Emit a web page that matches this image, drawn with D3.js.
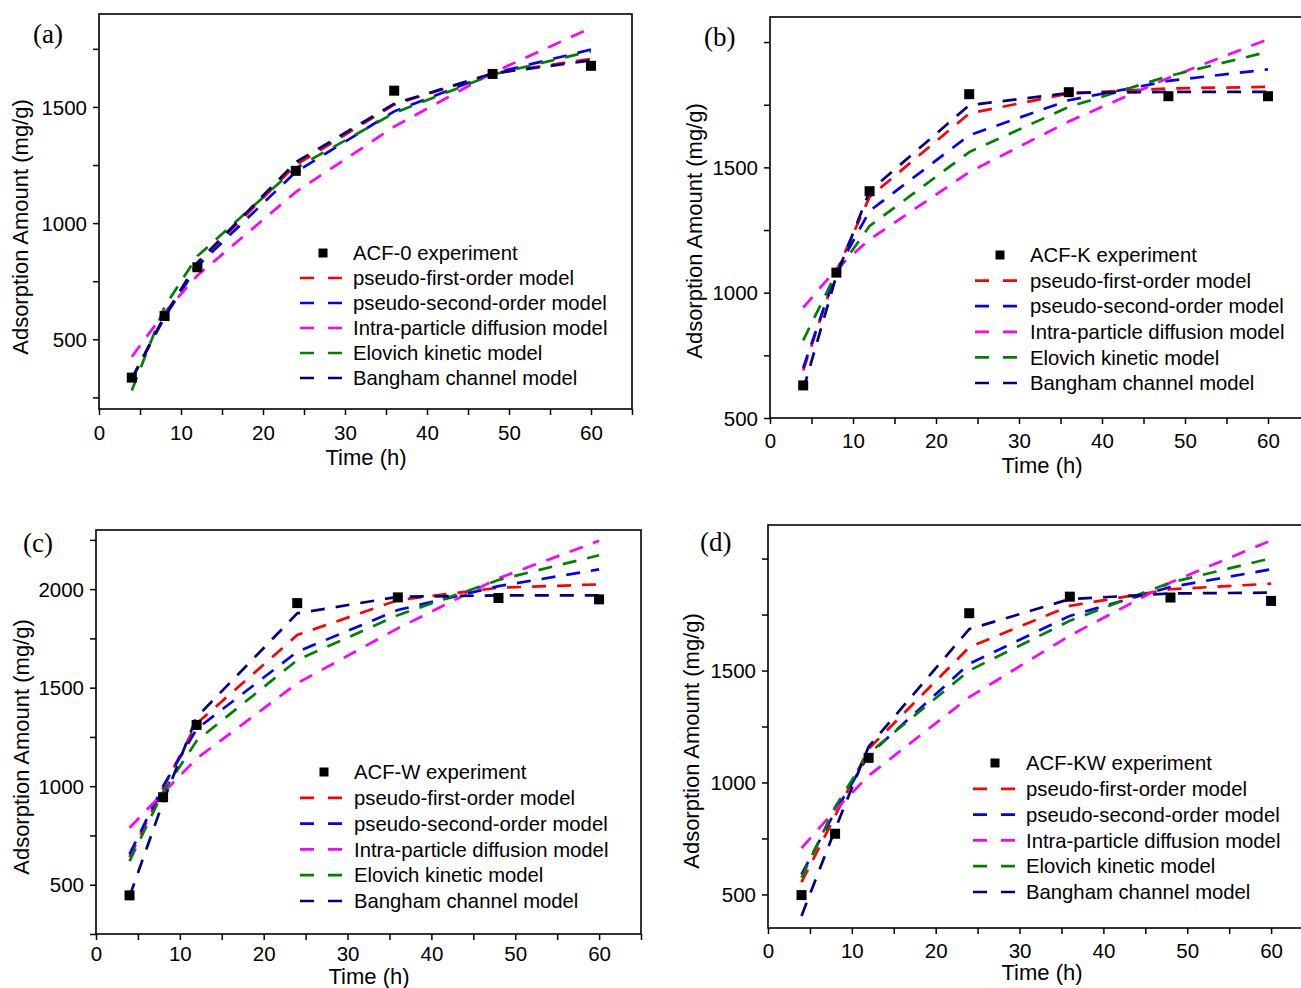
<!DOCTYPE html>
<html><head><meta charset="utf-8">
<script src="https://cdn.jsdelivr.net/npm/d3@7"></script>
<style>
html,body{margin:0;padding:0;background:#fff;}
svg{display:block;font-family:"Liberation Sans",Arial,sans-serif;}
</style></head>
<body>
<svg id="chart" width="1301" height="988"></svg>
<script>
// ---------- DATA ----------
const timeH = [4, 8, 12, 24, 36, 48, 60];
const seriesNames = ["pseudo-first-order model", "pseudo-second-order model",
  "Intra-particle diffusion model", "Elovich kinetic model", "Bangham channel model"];
const expLabels = ["ACF-0 experiment", "ACF-K experiment", "ACF-W experiment", "ACF-KW experiment"];
const panelLetters = ["(a)", "(b)", "(c)", "(d)"];
const xTickLabels = [0, 10, 20, 30, 40, 50, 60];
const yTickLabelsA = [500, 1000, 1500];
const yTickLabelsB = [500, 1000, 1500];
const yTickLabelsC = [500, 1000, 1500, 2000];
const yTickLabelsD = [500, 1000, 1500];

// (a) ACF-0
const expA = [335, 600, 810, 1225, 1570, 1642, 1677];
const pfoA = [330, 600, 825, 1250, 1510, 1644, 1707];
const psoA = [330, 595, 815, 1220, 1481, 1644, 1747];
const ipdA = [425, 615, 775, 1134, 1415, 1647, 1840];
const elvA = [280, 640, 858, 1237, 1474, 1639, 1740];
const bngA = [330, 600, 830, 1262, 1514, 1644, 1700];
// (b) ACF-K
const expB = [630, 1080, 1405, 1792, 1800, 1784, 1784];
const pfoB = [690, 1085, 1382, 1715, 1795, 1815, 1821];
const psoB = [700, 1085, 1326, 1628, 1768, 1845, 1891];
const ipdB = [940, 1095, 1212, 1481, 1683, 1857, 2011];
const elvB = [810, 1080, 1266, 1561, 1741, 1864, 1961];
const bngB = [612, 1068, 1405, 1748, 1797, 1801, 1801];
// (c) ACF-W
const expC = [446, 944, 1311, 1929, 1958, 1955, 1948];
const pfoC = [640, 990, 1318, 1767, 1944, 2007, 2024];
const psoC = [655, 1000, 1290, 1682, 1894, 2015, 2100];
const ipdC = [789, 965, 1140, 1522, 1801, 2055, 2245];
const elvC = [620, 970, 1230, 1640, 1868, 2046, 2172];
const bngC = [440, 920, 1350, 1877, 1961, 1968, 1968];
// (d) ACF-KW
const expD = [497, 771, 1110, 1756, 1830, 1826, 1811];
const pfoD = [555, 850, 1150, 1604, 1789, 1863, 1888];
const psoD = [590, 870, 1122, 1530, 1744, 1873, 1952];
const ipdD = [707, 876, 1030, 1381, 1656, 1893, 2081];
const elvD = [575, 890, 1130, 1500, 1722, 1893, 2001];
const bngD = [404, 790, 1160, 1685, 1819, 1844, 1848];

// ---------- STYLE / LAYOUT ----------
const seriesColors = ["#ff0000", "#0000ff", "#ff00ff", "#008000", "#000080"];
const panels = [
  { exp: expA, models: [pfoA, psoA, ipdA, elvA, bngA], yLabels: yTickLabelsA,
    left: 99, right: 632, top: 14, bottom: 409, yDom: [200, 1900], yMinorFrom: 250, yMinorTo: 1750,
    letter: [33, 43], yTitle: [20, 227], xTitle: [366, 465], xTickDy: 31,
    leg: { mx: 323, l0: 300, l1: 342, tx: 353, y0: 253, dy: 25 } },
  { exp: expB, models: [pfoB, psoB, ipdB, elvB, bngB], yLabels: yTickLabelsB,
    left: 770, right: 1309.5, top: 17, bottom: 418, yDom: [500, 2100], yMinorFrom: 500, yMinorTo: 2000,
    letter: [704, 46], yTitle: [694, 231], xTitle: [1042, 473], xTickDy: 30,
    leg: { mx: 1000, l0: 975, l1: 1019, tx: 1030, y0: 255, dy: 25.6 } },
  { exp: expC, models: [pfoC, psoC, ipdC, elvC, bngC], yLabels: yTickLabelsC,
    left: 96, right: 641, top: 530, bottom: 934, yDom: [250, 2300], yMinorFrom: 250, yMinorTo: 2250,
    letter: [23, 552], yTitle: [21, 747], xTitle: [369, 984], xTickDy: 27,
    leg: { mx: 324, l0: 300, l1: 344, tx: 354, y0: 772, dy: 25.8 } },
  { exp: expD, models: [pfoD, psoD, ipdD, elvD, bngD], yLabels: yTickLabelsD,
    left: 768, right: 1313, top: 525, bottom: 928, yDom: [350, 2150], yMinorFrom: 500, yMinorTo: 2000,
    letter: [700, 551], yTitle: [691, 741], xTitle: [1042, 980], xTickDy: 30,
    leg: { mx: 995, l0: 973, l1: 1015, tx: 1026, y0: 763, dy: 25.8 } }
];

const svg = d3.select("#chart");
const DASH = "14,11";
const LW = 2.7;

panels.forEach((p, pi) => {
  const g = svg.append("g");
  const x = d3.scaleLinear().domain([0, 65]).range([p.left, p.right]);
  const y = d3.scaleLinear().domain(p.yDom).range([p.bottom, p.top]);

  // axes with D3
  const xAxis = d3.axisBottom(x).tickValues(d3.range(0, 66, 5)).tickSize(6)
    .tickFormat(d => xTickLabels.includes(d) ? d : "");
  const gx = g.append("g").attr("transform", `translate(0,${p.bottom})`).call(xAxis);
  gx.select(".domain").remove();
  gx.selectAll("line").attr("stroke", "#000").attr("stroke-width", 1.5);
  gx.selectAll("text").attr("font-size", 20.5).attr("fill", "#000")
    .attr("y", p.xTickDy).attr("dy", 0);

  const yAxis = d3.axisLeft(y).tickValues(d3.range(p.yMinorFrom, p.yMinorTo + 1, 250)).tickSize(6)
    .tickFormat(d => p.yLabels.includes(d) ? d : "");
  const gy = g.append("g").attr("transform", `translate(${p.left},0)`).call(yAxis);
  gy.select(".domain").remove();
  gy.selectAll("line").attr("stroke", "#000").attr("stroke-width", 1.5);
  gy.selectAll("text").attr("font-size", 20.5).attr("fill", "#000").attr("x", -12).attr("dy", "0.35em");

  // frame
  g.append("rect").attr("x", p.left).attr("y", p.top)
    .attr("width", p.right - p.left).attr("height", p.bottom - p.top)
    .attr("fill", "none").attr("stroke", "#000").attr("stroke-width", 1.6);

  // model lines
  const line = d3.line().x((d, i) => x(timeH[i])).y(d => y(d));
  const clipId = "clip" + pi;
  g.append("clipPath").attr("id", clipId).append("rect")
    .attr("x", p.left).attr("y", p.top).attr("width", p.right - p.left).attr("height", p.bottom - p.top);
  const lg = g.append("g").attr("clip-path", `url(#${clipId})`);
  p.models.forEach((vals, si) => {
    lg.append("path").datum(vals).attr("d", line)
      .attr("fill", "none").attr("stroke", seriesColors[si]).attr("stroke-width", LW)
      .attr("stroke-dasharray", DASH);
  });

  // experiment markers
  lg.selectAll("rect.exp").data(p.exp).enter().append("rect").attr("class", "exp")
    .attr("x", (d, i) => x(timeH[i]) - 5).attr("y", d => y(d) - 5)
    .attr("width", 10).attr("height", 10).attr("fill", "#000");

  // axis titles
  g.append("text").attr("transform", `translate(${p.yTitle[0]},${p.yTitle[1]}) rotate(-90)`)
    .attr("text-anchor", "middle").attr("dy", "0.35em").attr("font-size", 22).text("Adsorption Amount (mg/g)");
  g.append("text").attr("x", p.xTitle[0]).attr("y", p.xTitle[1])
    .attr("text-anchor", "middle").attr("font-size", 22).text("Time (h)");

  // panel letter
  g.append("text").attr("x", p.letter[0]).attr("y", p.letter[1])
    .attr("font-family", "'Liberation Serif','Times New Roman',serif").attr("font-size", 27)
    .text(panelLetters[pi]);

  // legend
  const L = p.leg;
  g.append("rect").attr("x", L.mx - 4.5).attr("y", L.y0 - 4.5).attr("width", 9).attr("height", 9).attr("fill", "#000");
  g.append("text").attr("x", L.tx).attr("y", L.y0).attr("dy", "0.35em").attr("font-size", 20.3).text(expLabels[pi]);
  seriesNames.forEach((nm, si) => {
    const yy = L.y0 + L.dy * (si + 1);
    g.append("line").attr("x1", L.l0).attr("x2", L.l1).attr("y1", yy).attr("y2", yy)
      .attr("stroke", seriesColors[si]).attr("stroke-width", LW).attr("stroke-dasharray", "14,14");
    g.append("text").attr("x", L.tx).attr("y", yy).attr("dy", "0.35em").attr("font-size", 20.3).text(nm);
  });
});
</script>
</body></html>
